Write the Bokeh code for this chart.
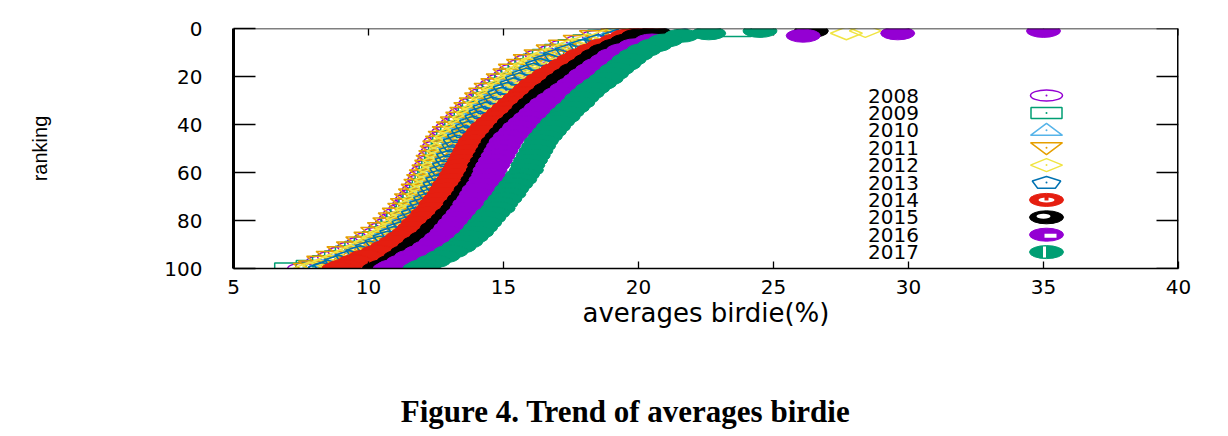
import numpy as np
from bokeh.plotting import figure
from bokeh.models import Range1d, FixedTicker, Span, LinearAxis
from bokeh.core.properties import value
from bokeh.embed import file_html
from bokeh.resources import INLINE

# ---------------- data ----------------
years = ["2008", "2009", "2010", "2011", "2012", "2013", "2014", "2015", "2016", "2017"]
ranks = [1, 2, 3, 5, 7, 9, 11, 13, 15, 17, 19, 21, 23, 25, 27, 29, 31, 33, 35, 37,
         39, 41, 43, 45, 47, 49, 51, 53, 55, 57, 59, 61, 63, 65, 67, 69, 71, 73, 75,
         77, 79, 81, 83, 85, 87, 89, 91, 93, 95, 97, 99, 100]

avg_2008 = [19.8, 19.1, 18.5, 17.9, 17.3, 16.9, 16.4, 16.0, 15.75, 15.45, 15.25, 15.0,
            14.75, 14.55, 14.35, 14.2, 13.95, 13.8, 13.6, 13.45, 13.3, 13.1, 12.95, 12.85,
            12.65, 12.6, 12.55, 12.45, 12.4, 12.3, 12.2, 12.1, 12.05, 11.95, 11.85, 11.75,
            11.6, 11.5, 11.35, 11.15, 11.0, 10.85, 10.6, 10.4, 10.1, 9.8, 9.45, 9.1, 8.7,
            8.3, 7.9, 7.6]
avg_2009 = [23.6, 19.4, 18.7, 18.15, 17.6, 17.1, 16.65, 16.3, 16.0, 15.75, 15.5, 15.25,
            15.05, 14.8, 14.6, 14.45, 14.25, 14.05, 13.9, 13.75, 13.55, 13.4, 13.25, 13.1,
            12.95, 12.9, 12.8, 12.7, 12.65, 12.55, 12.45, 12.4, 12.3, 12.2, 12.1, 12.0,
            11.85, 11.7, 11.6, 11.4, 11.25, 11.05, 10.85, 10.6, 10.35, 10.05, 9.7, 9.35,
            8.95, 8.5, 7.9, 7.1]
avg_2010 = [20.8, 19.6, 18.9, 18.2, 17.65, 17.15, 16.7, 16.35, 16.05, 15.8, 15.55, 15.3,
            15.1, 14.85, 14.65, 14.5, 14.3, 14.1, 13.95, 13.8, 13.6, 13.45, 13.3, 13.15,
            13.0, 12.95, 12.85, 12.75, 12.7, 12.6, 12.5, 12.45, 12.35, 12.25, 12.15, 12.05,
            11.9, 11.75, 11.65, 11.45, 11.3, 11.1, 10.9, 10.65, 10.4, 10.1, 9.75, 9.4, 9.0,
            8.6, 8.2, 7.9]
avg_2011 = [20.3, 19.2, 18.4, 17.8, 17.25, 16.8, 16.35, 15.95, 15.7, 15.4, 15.2, 14.95,
            14.75, 14.5, 14.3, 14.15, 13.95, 13.75, 13.6, 13.45, 13.25, 13.1, 12.95, 12.8,
            12.7, 12.6, 12.5, 12.45, 12.35, 12.3, 12.2, 12.1, 12.0, 11.9, 11.8, 11.7,
            11.55, 11.4, 11.3, 11.1, 10.95, 10.75, 10.55, 10.3, 10.05, 9.75, 9.4, 9.05,
            8.65, 8.3, 8.0, 7.8]
avg_2012 = [28.4, 27.7, 18.8, 18.1, 17.55, 17.1, 16.6, 16.25, 15.95, 15.7, 15.45, 15.25,
            15.0, 14.8, 14.6, 14.4, 14.2, 14.05, 13.85, 13.7, 13.55, 13.35, 13.2, 13.05,
            12.9, 12.85, 12.75, 12.7, 12.6, 12.55, 12.45, 12.35, 12.3, 12.2, 12.1, 12.0,
            11.85, 11.7, 11.6, 11.4, 11.25, 11.05, 10.85, 10.6, 10.35, 10.05, 9.7, 9.35,
            8.95, 8.55, 8.15, 7.8]
avg_2013 = [21.3, 19.9, 19.2, 18.5, 17.95, 17.45, 17.0, 16.65, 16.35, 16.1, 15.85, 15.6,
            15.4, 15.15, 14.95, 14.8, 14.6, 14.4, 14.25, 14.1, 13.9, 13.75, 13.6, 13.45,
            13.3, 13.25, 13.15, 13.05, 13.0, 12.9, 12.8, 12.75, 12.65, 12.55, 12.45, 12.35,
            12.2, 12.05, 11.95, 11.75, 11.6, 11.4, 11.2, 10.95, 10.7, 10.4, 10.05, 9.7,
            9.3, 8.9, 8.5, 8.3]
avg_2014 = [20.4, 20.1, 19.6, 19.2, 18.7, 18.3, 17.9, 17.6, 17.3, 17.0, 16.7, 16.45,
            16.2, 16.0, 15.8, 15.6, 15.4, 15.2, 15.0, 14.8, 14.6, 14.4, 14.25, 14.1,
            13.95, 13.85, 13.75, 13.65, 13.55, 13.45, 13.35, 13.25, 13.15, 13.0, 12.9,
            12.8, 12.65, 12.5, 12.4, 12.2, 12.05, 11.85, 11.7, 11.5, 11.25, 11.0, 10.7,
            10.35, 9.9, 9.5, 9.1, 8.9]
avg_2015 = [26.4, 20.6, 20.0, 19.6, 19.2, 18.8, 18.5, 18.25, 18.0, 17.7, 17.45, 17.2,
            17.0, 16.75, 16.55, 16.35, 16.15, 15.95, 15.8, 15.6, 15.4, 15.25, 15.1, 14.95,
            14.8, 14.7, 14.6, 14.5, 14.4, 14.3, 14.25, 14.15, 14.05, 13.95, 13.8, 13.7,
            13.55, 13.4, 13.3, 13.1, 12.95, 12.75, 12.55, 12.4, 12.15, 11.9, 11.7, 11.45,
            11.2, 10.95, 10.6, 10.4]
avg_2016 = [35.0, 29.6, 26.1, 20.5, 19.9, 19.45, 19.1, 18.85, 18.55, 18.3, 18.05, 17.85,
            17.6, 17.35, 17.1, 16.85, 16.6, 16.4, 16.2, 16.0, 15.8, 15.6, 15.45, 15.25,
            15.1, 15.0, 14.9, 14.8, 14.7, 14.6, 14.5, 14.45, 14.35, 14.25, 14.1, 14.0,
            13.9, 13.75, 13.65, 13.5, 13.35, 13.2, 13.05, 12.9, 12.7, 12.5, 12.25, 11.95,
            11.6, 11.3, 10.95, 10.8]
avg_2017 = [24.5, 22.6, 21.6, 21.0, 20.6, 20.2, 19.9, 19.65, 19.45, 19.2, 19.0, 18.8,
            18.55, 18.3, 18.1, 17.9, 17.75, 17.55, 17.35, 17.2, 17.0, 16.85, 16.7, 16.55,
            16.4, 16.3, 16.2, 16.1, 16.0, 15.9, 15.85, 15.7, 15.6, 15.45, 15.3, 15.2,
            15.05, 14.9, 14.8, 14.6, 14.45, 14.3, 14.15, 14.0, 13.8, 13.6, 13.35, 13.05,
            12.75, 12.4, 12.05, 11.9]

x_ticks = [5, 10, 15, 20, 25, 30, 35, 40]
y_ticks = [0, 20, 40, 60, 80, 100]
caption_text = "Figure 4. Trend of averages birdie"

# ---------------- layout / style ----------------
X_START, X_END = 5, 40
Y_TOP, Y_BOTTOM = 0, 100
FRAME_W, FRAME_H = 945, 240
PX = (X_END - X_START) / FRAME_W      # data units per screen px (x)
PY = (Y_BOTTOM - Y_TOP) / FRAME_H     # ranks per screen px (y, downwards)

colors = {
    "2008": "#9400D3", "2009": "#009E73", "2010": "#56B4E9", "2011": "#E69F00",
    "2012": "#F0E442", "2013": "#0072B2", "2014": "#E51E10", "2015": "#000000",
    "2016": "#9400D3", "2017": "#009E73",
}

TICK_FONT = "DejaVu Sans"

p = figure(frame_width=FRAME_W, frame_height=FRAME_H,
           x_range=Range1d(X_START, X_END), y_range=Range1d(Y_BOTTOM, Y_TOP),
           output_backend="svg", toolbar_location=None,
           min_border_left=233, min_border_right=42,
           min_border_top=28, min_border_bottom=160,
           x_axis_label="averages birdie(%)", y_axis_label="ranking")
p.outline_line_color = None
p.grid.visible = False
p.background_fill_color = "white"
p.border_fill_color = "white"

for ax, tick_in, lw in ((p.xaxis[0], 7, 1.5), (p.yaxis[0], 22, 3)):
    ax.major_tick_in = tick_in
    ax.major_tick_out = 0
    ax.minor_tick_line_color = None
    ax.axis_line_width = lw
    ax.axis_line_color = "black"
    ax.major_tick_line_width = 1.3
    ax.major_tick_line_color = "black"
    ax.major_label_text_font = TICK_FONT
    ax.major_label_text_font_size = "20px"
    ax.major_label_text_color = "black"
    ax.axis_label_text_color = "black"
    ax.axis_label_text_font_style = "normal"

xa = p.xaxis[0]
xa.ticker = FixedTicker(ticks=x_ticks)
xa.major_label_standoff = 11
xa.axis_label_text_font = TICK_FONT
xa.axis_label_text_font_size = "26px"
xa.axis_label_standoff = 1

ya = p.yaxis[0]
ya.ticker = FixedTicker(ticks=y_ticks)
ya.major_label_standoff = 31
ya.axis_label_text_font = "Liberation Sans"
ya.axis_label_text_font_size = "20px"
ya.axis_label_standoff = 110

# mirrored border and ticks on the top and right sides
p.add_layout(Span(location=Y_TOP, dimension="width", line_color="black", line_width=1.5))
p.add_layout(Span(location=X_END, dimension="height", line_color="black", line_width=3))
n_x, n_y = len(x_ticks), len(y_ticks)
p.segment(x0=x_ticks, y0=[Y_TOP] * n_x, x1=x_ticks, y1=[Y_TOP + 7 * PY] * n_x,
          line_color="black", line_width=1.3)
p.segment(x0=[X_END] * n_y, y0=y_ticks, x1=[X_END - 22 * PX] * n_y, y1=y_ticks,
          line_color="black", line_width=1.3)

# marker shapes as screen-pixel offsets (dy positive = downwards)
ang = np.deg2rad(-90 + 72 * np.arange(5))
SHAPES = {
    "tri_up": [(0, -7), (-16, 5), (16, 5)],
    "tri_dn": [(0, 7), (-16, -5), (16, -5)],
    "diamond": [(0, -6.5), (16, 0), (0, 6.5), (-16, 0)],
    "pentagon": list(zip(15 * np.cos(ang), 6.5 * np.sin(ang) + 0.5)),
}


def polygons(xs, ys, shape):
    offs = SHAPES[shape]
    pxs = [[float(x) + dx * PX for dx, dy in offs] for x in xs]
    pys = [[float(y) + dy * PY for dx, dy in offs] for y in ys]
    return pxs, pys


def draw_series(xs, ys, year, kind):
    c = colors[year]
    if kind == "circle_open":
        p.ellipse(x=xs, y=ys, width=32, height=11, width_units="screen",
                  height_units="screen", fill_color=None, line_color=c, line_width=1.5)
    elif kind == "square_open":
        p.rect(x=xs, y=ys, width=31, height=11, width_units="screen",
               height_units="screen", fill_color=None, line_color=c, line_width=1.5)
    elif kind in SHAPES:
        pxs, pys = polygons(xs, ys, kind)
        p.patches(xs=pxs, ys=pys, fill_color=None, line_color=c, line_width=1.5)
    else:  # filled
        p.ellipse(x=xs, y=ys, width=34, height=13, width_units="screen",
                  height_units="screen", fill_color=c, line_color=c, line_width=1)


series = [
    ("2008", avg_2008, "circle_open"),
    ("2009", avg_2009, "square_open"),
    ("2010", avg_2010, "tri_up"),
    ("2011", avg_2011, "tri_dn"),
    ("2012", avg_2012, "diamond"),
    ("2013", avg_2013, "pentagon"),
    ("2014", avg_2014, "filled"),
    ("2015", avg_2015, "filled"),
    ("2016", avg_2016, "filled"),
    ("2017", avg_2017, "filled"),
]

for year, vals, kind in series:
    assert len(vals) == len(ranks), year
    draw_series(vals, ranks, year, kind)

# ---------------- key (inside the frame, gnuplot style) ----------------
LEG_TEXT_PX = 660      # px from frame left (centre of labels)
LEG_MARK_PX = 813      # px from frame left (centre of markers)
LEG_ROW0_PX = 67       # px from frame top
LEG_STEP_PX = 17.4

leg_tx = X_START + LEG_TEXT_PX * PX
leg_mx = X_START + LEG_MARK_PX * PX
leg_rows = [Y_TOP + (LEG_ROW0_PX + i * LEG_STEP_PX) * PY for i in range(len(years))]

p.text(x=[leg_tx] * len(years), y=leg_rows, text=years,
       text_align="center", text_baseline="middle",
       text_font=value(TICK_FONT), text_font_size="20px", text_color="black")

for (year, vals, kind), ly in zip(series, leg_rows):
    draw_series([leg_mx], [ly], year, kind)
    if kind != "filled":
        p.ellipse(x=[leg_mx], y=[ly], width=2, height=2, width_units="screen",
                  height_units="screen", fill_color=colors[year], line_color=None)

# white details of the filled key symbols
r14, r15, r16, r17 = leg_rows[6], leg_rows[7], leg_rows[8], leg_rows[9]
p.ellipse(x=[leg_mx], y=[r14], width=16, height=5, width_units="screen",
          height_units="screen", fill_color="white", line_color=None)
p.rect(x=[leg_mx], y=[r14 - 2.5 * PY], width=4, height=6, width_units="screen",
       height_units="screen", fill_color=colors["2014"], line_color=None)
p.ellipse(x=[leg_mx - 3 * PX], y=[r15 - 1 * PY], width=14, height=5, width_units="screen",
          height_units="screen", fill_color="white", line_color=None)
p.rect(x=[leg_mx + 4 * PX], y=[r16 + 1 * PY], width=12, height=4, width_units="screen",
       height_units="screen", fill_color="white", line_color=None)
p.rect(x=[leg_mx - 2 * PX], y=[r17], width=3, height=11, width_units="screen",
       height_units="screen", fill_color="white", line_color=None)

# ---------------- caption below the chart (a bare axis carrying one label) ----
CAPTION_CENTER_PX = 392          # px from frame left
cap_x = X_START + CAPTION_CENTER_PX * PX
cap_axis = LinearAxis(ticker=FixedTicker(ticks=[cap_x]),
                      major_label_overrides={cap_x: caption_text})
cap_axis.axis_line_color = None
cap_axis.major_tick_line_color = None
cap_axis.minor_tick_line_color = None
cap_axis.major_tick_in = 0
cap_axis.major_tick_out = 0
cap_axis.major_label_standoff = 63
cap_axis.major_label_text_font = "Liberation Serif"
cap_axis.major_label_text_font_style = "bold"
cap_axis.major_label_text_font_size = "31px"
cap_axis.major_label_text_color = "black"
p.add_layout(cap_axis, "below")

open("out.html", "w").write(file_html(p, INLINE))
